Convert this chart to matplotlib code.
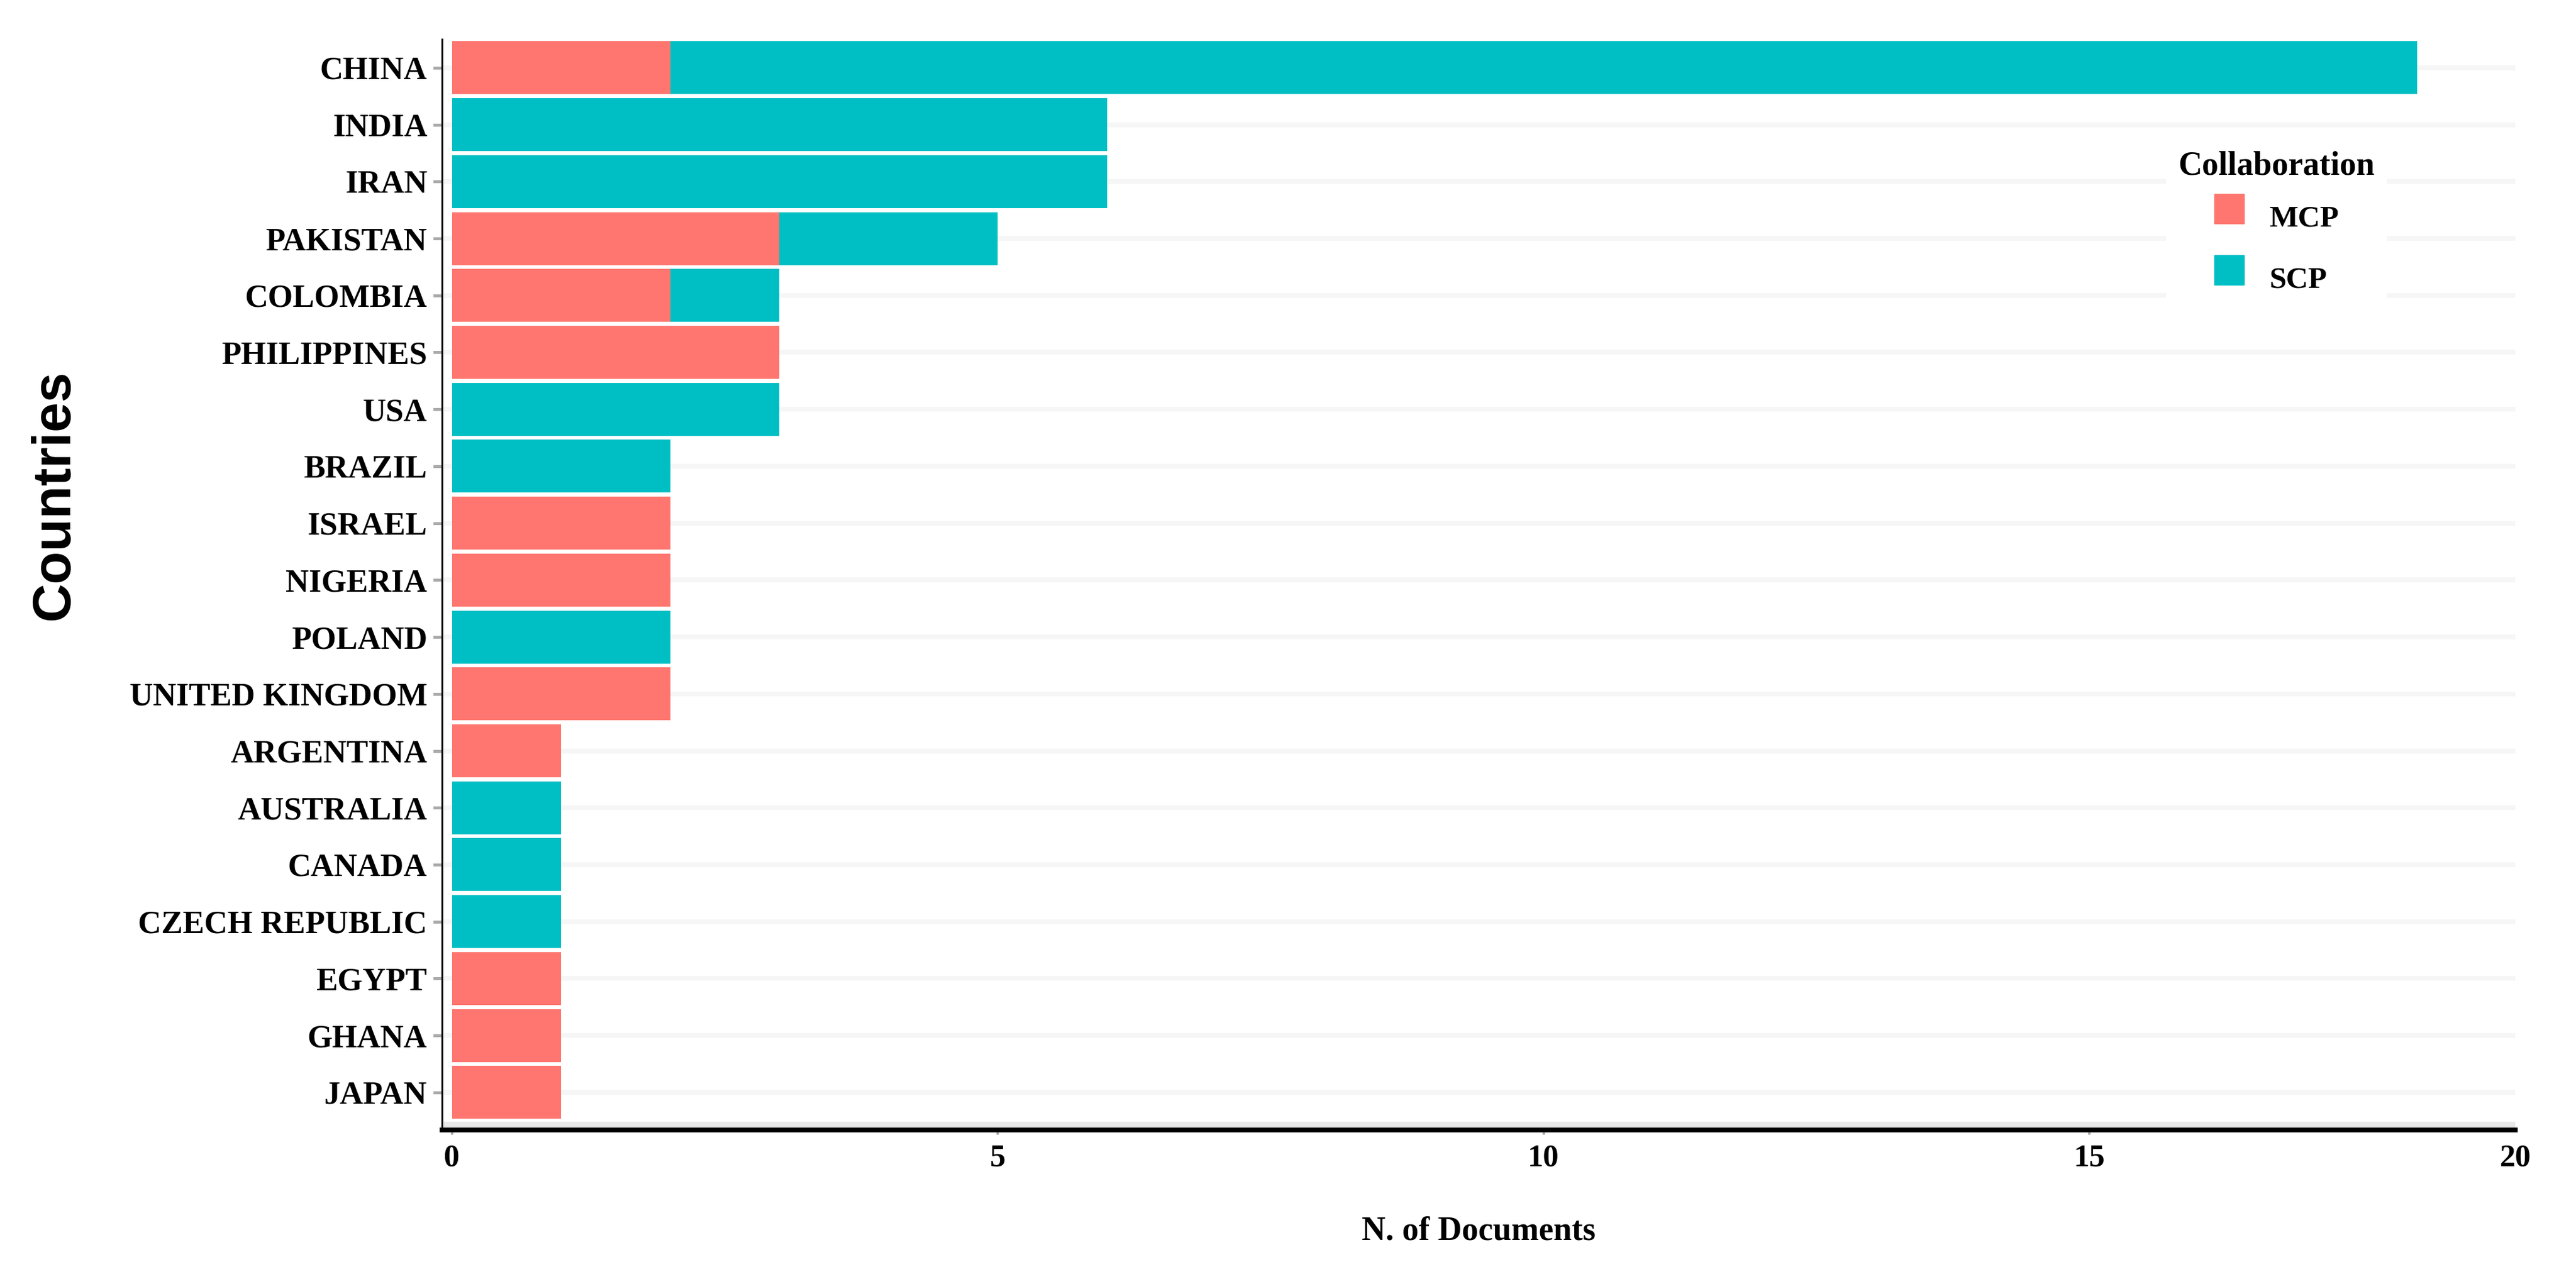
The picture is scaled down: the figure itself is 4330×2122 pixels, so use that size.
import matplotlib
matplotlib.use("Agg")
import matplotlib.pyplot as plt
from matplotlib.lines import Line2D

countries = ["CHINA", "INDIA", "IRAN", "PAKISTAN", "COLOMBIA", "PHILIPPINES", "USA",
             "BRAZIL", "ISRAEL", "NIGERIA", "POLAND", "UNITED KINGDOM", "ARGENTINA",
             "AUSTRALIA", "CANADA", "CZECH REPUBLIC", "EGYPT", "GHANA", "JAPAN"]
mcp = [2, 0, 0, 3, 2, 3, 0, 0, 2, 2, 0, 2, 1, 0, 0, 0, 1, 1, 1]
scp = [16, 6, 6, 2, 1, 0, 3, 2, 0, 0, 2, 0, 0, 1, 1, 1, 0, 0, 0]
xtick_vals = [0, 5, 10, 15]
xtick_labels = ["0", "5", "10", "15", "20"]

red = "#fe766f"
teal = "#00bfc4"
serif = "Liberation Serif"

fig = plt.figure(figsize=(43.3, 21.22), dpi=100)
ax = fig.add_axes([0.1716, 0.1046, 0.8048, 0.8643])

y = list(range(len(countries)))
ax.barh(y, mcp, height=0.93, color=red, zorder=2, label="MCP")
ax.barh(y, scp, left=mcp, height=0.93, color=teal, zorder=2, label="SCP")

x_right = 18.9
ax.set_xlim(-0.09, x_right)
ax.set_ylim(18.66, -0.5)

# faint horizontal grid at every country, grey band along the bottom
ax.set_yticks(y)
ax.set_yticklabels(countries)
ax.grid(axis="y", color="#f6f6f6", linewidth=5.8, zorder=0)
ax.set_axisbelow(True)
ax.axhline(18.57, color="#e8e8e8", linewidth=7.2, zorder=1)

# the last label sits at the panel edge, as in the figure
ax.set_xticks(xtick_vals + [x_right])
ax.set_xticklabels(xtick_labels)
ax.get_xticklines()[-2].set_visible(False)

for s in ["top", "right"]:
    ax.spines[s].set_visible(False)
ax.spines["bottom"].set_linewidth(5.8)
ax.spines["left"].set_linewidth(2.2)

ax.tick_params(axis="y", length=11, width=3.6, color="#aaaaaa", pad=7)
ax.tick_params(axis="x", length=6, width=3, color="#aaaaaa", pad=11)
for lab in ax.get_yticklabels():
    lab.set_fontfamily(serif)
    lab.set_fontweight("bold")
    lab.set_fontsize(39)
for lab in ax.get_xticklabels():
    lab.set_fontfamily(serif)
    lab.set_fontweight("bold")
    lab.set_fontsize(38)

ax.set_xlabel("N. of Documents", fontfamily=serif, fontweight="bold", fontsize=40, va="center")
ax.xaxis.set_label_coords(0.5, -0.0927)
ax.set_ylabel("Countries", fontfamily="Liberation Sans", fontweight="bold", fontsize=65, va="center")
ax.yaxis.set_label_coords(-0.1868, 0.582)

handles = [Line2D([], [], marker="s", linestyle="", markersize=36, color=red, label="MCP"),
           Line2D([], [], marker="s", linestyle="", markersize=36, color=teal, label="SCP")]
leg = ax.legend(handles=handles, title="Collaboration", loc="upper left",
                bbox_to_anchor=(3615 / 4330, 1 - 207 / 2122), bbox_transform=fig.transFigure,
                prop={"family": serif, "weight": "bold", "size": 37},
                title_fontproperties={"family": serif, "weight": "bold", "size": 40},
                frameon=True, facecolor="white", edgecolor="none", framealpha=1,
                handlelength=1.0, handleheight=2.25, handletextpad=0.8,
                labelspacing=0.3, borderpad=0.4, fancybox=False)
leg.set_zorder(5)

fig.savefig("out.png", dpi=100, facecolor="white")
